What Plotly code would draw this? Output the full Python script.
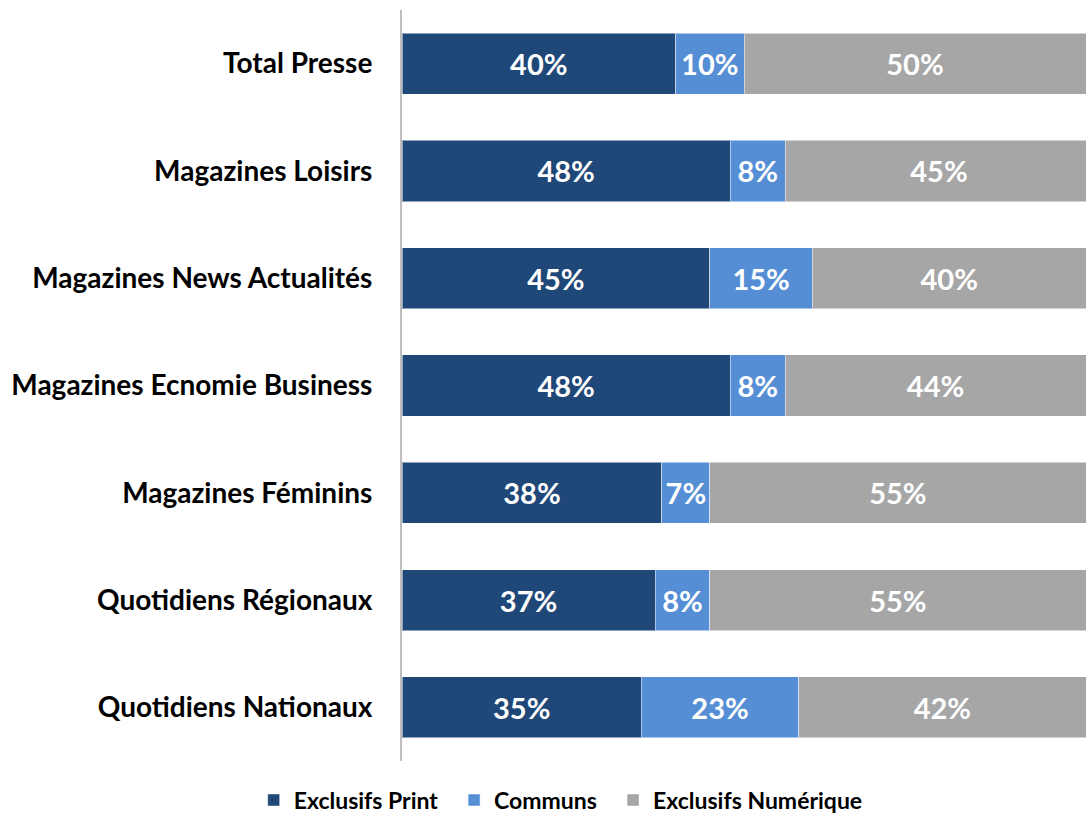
import plotly.graph_objects as go

categories = ["Total Presse", "Magazines Loisirs", "Magazines News Actualités",
              "Magazines Ecnomie Business", "Magazines Féminins",
              "Quotidiens Régionaux", "Quotidiens Nationaux"]
exclusifs_print = [40, 48, 45, 48, 38, 37, 35]
communs = [10, 8, 15, 8, 7, 8, 23]
exclusifs_numerique = [50, 45, 40, 44, 55, 55, 42]
series_names = ["Exclusifs Print", "Communs", "Exclusifs Numérique"]

series = [
    (series_names[0], exclusifs_print, "#1F4778"),
    (series_names[1], communs, "#558ED5"),
    (series_names[2], exclusifs_numerique, "#A6A6A6"),
]

FONT = "Lato"
fig = go.Figure()
for i, (name, vals, color) in enumerate(series):
    pad = "\u00a0\u00a0" if i < len(series) - 1 else ""
    fig.add_trace(go.Bar(
        y=categories, x=vals, name=name + pad, orientation="h",
        marker=dict(color=color, line=dict(color="rgba(255,255,255,0.5)", width=1)),
        text=[f"{v}%" for v in vals], textposition="inside", insidetextanchor="middle",
        textfont=dict(color="white", size=29, family=FONT, weight="bold"),
        cliponaxis=True,
    ))

fig.update_layout(
    barmode="stack", bargap=0.43,
    width=1086, height=817,
    margin=dict(l=402, r=0, t=10, b=56, autoexpand=False),
    plot_bgcolor="white", paper_bgcolor="white",
    font=dict(family=FONT, color="black"),
    uniformtext=dict(mode=False),
    xaxis=dict(range=[0, 100], showgrid=False, showticklabels=False, zeroline=False,
               showline=False, fixedrange=True),
    yaxis=dict(autorange="reversed", showline=True, linecolor="#BFBFBF", linewidth=2,
               ticks="", ticklabelstandoff=22,
               tickfont=dict(size=28, family=FONT, color="black", weight="bold")),
    legend=dict(orientation="h", x=0.232, xanchor="center", y=-0.052, yanchor="middle",
                font=dict(size=23, family=FONT, color="black", weight="bold"),
                itemwidth=30, traceorder="normal"),
)
fig.write_html("out.html")
